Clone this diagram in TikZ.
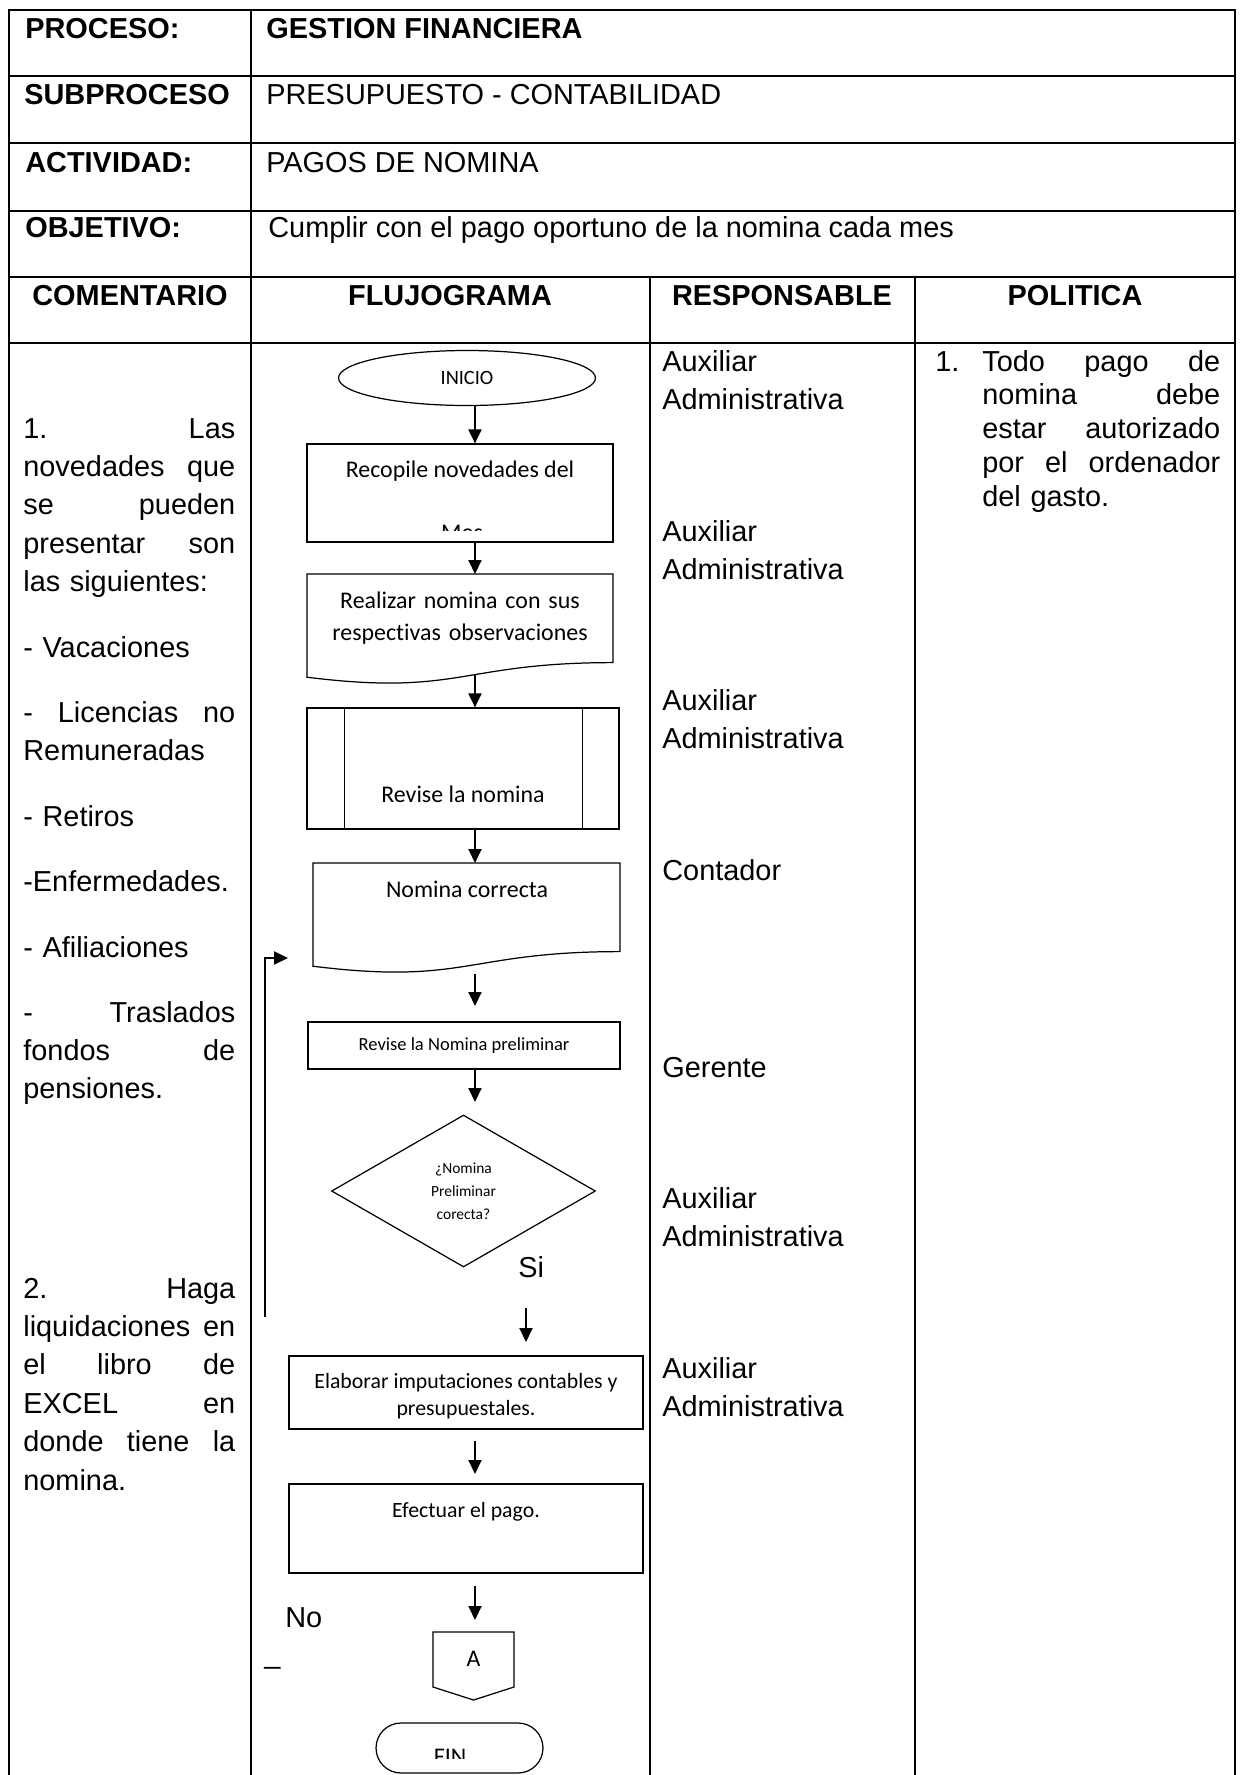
\documentclass[tikz,border=0pt]{standalone}
\usepackage{fontspec}
\setmainfont{Liberation Sans}
\newfontfamily\calibri[Ligatures=NoCommon]{Carlito}
\usetikzlibrary{arrows.meta, shapes.geometric}

% tamanos de letra (1 unidad = 1 px)
\newcommand{\letra}{\fontsize{16.44}{21.9}\selectfont}
\newcommand{\letrapol}{\fontsize{16.44}{19.3}\selectfont}
\newcommand{\cajaG}{\calibri\fontsize{13.6}{18.7}\selectfont}
\newcommand{\cajaM}{\calibri\fontsize{12.4}{15.3}\selectfont}
\newcommand{\cajaS}{\calibri\fontsize{10.54}{12.6}\selectfont}
\newcommand{\cajaI}{\calibri\fontsize{11.56}{14}\selectfont}
\newcommand{\cajaXS}{\calibri\fontsize{8.8}{13}\selectfont}

\begin{document}
\begin{tikzpicture}[x=0.02cm, y=-0.02cm,
    tabla/.style={line width=1.2pt},
    borde/.style={line width=0.7pt},
    caja/.style={draw, line width=0.7pt, inner sep=0pt},
    enc/.style={anchor=base west, inner sep=0pt, font=\letra},
    col/.style={anchor=base, inner sep=0pt, font=\letra\bfseries},
    parr/.style={anchor=base west, inner sep=0pt, font=\letra, text width=#1},
    txtcaja/.style={anchor=base, inner sep=0pt},
    flecha/.style={line width=1.1pt, -{Triangle[length=0.28cm, width=0.26cm]}}]
  \useasboundingbox (0,0) rectangle (1240,1775);

  % Tabla
  \draw[tabla] (9,1775) -- (9,10) -- (1235,10) -- (1235,1775);
  \foreach \y in {76,143,211,277,343}
    \draw[tabla] (9,\y) -- (1235,\y);
  \draw[tabla] (251,10) -- (251,1775);
  \foreach \x in {650,915}
    \draw[tabla] (\x,277) -- (\x,1775);

  % Encabezado
  \node[enc, font=\letra\bfseries] (proceso) at (25,38) {PROCESO:};
  \node[enc, font=\letra\bfseries] (gestion) at (266,38) {GESTION FINANCIERA};
  \node[enc, font=\letra\bfseries] (subproceso) at (24,104) {SUBPROCESO};
  \node[enc] (presupuesto) at (266,104) {PRESUPUESTO - CONTABILIDAD};
  \node[enc, font=\letra\bfseries] (actividad) at (25,172) {ACTIVIDAD:};
  \node[enc] (pagos) at (266,172) {PAGOS DE NOMINA};
  \node[enc, font=\letra\bfseries] (objetivo) at (25,237) {OBJETIVO:};
  \node[enc] (cumplir) at (268,237) {Cumplir con el pago oportuno de la nomina cada mes};

  \node[col] (comentario) at (130,305) {COMENTARIO};
  \node[col] (flujograma) at (450,305) {FLUJOGRAMA};
  \node[col] (responsable) at (782,305) {RESPONSABLE};
  \node[col] (politica) at (1075,305) {POLITICA};

  % Columna de comentarios
  \node[parr=4.24cm] (com1) at (23,438) {1.\hfill Las\\ novedades\hfill que\\ se\hfill pueden\\ presentar\hfill son\\ las siguientes:};
  \node[parr=4.24cm] (com2) at (23,657) {- Vacaciones};
  \node[parr=4.24cm] (com3) at (23,722) {-\hfill Licencias\hfill no\\ Remuneradas};
  \node[parr=4.24cm] (com4) at (23,826) {- Retiros};
  \node[parr=4.24cm] (com5) at (23,891) {-Enfermedades.};
  \node[parr=4.24cm] (com6) at (23,957) {- Afiliaciones};
  \node[parr=4.24cm] (com7) at (23,1022) {-\hfill Traslados\\ fondos\hfill de\\ pensiones.};
  \node[parr=4.24cm] (com8) at (23,1298) {2.\hfill Haga\\ liquidaciones\hfill en\\ el\hfill libro\hfill de\\ EXCEL\hfill en\\ donde\hfill tiene\hfill la\\ nomina.};

  % Responsables
  \node[parr=5cm] (resp1) at (662,371) {Auxiliar\\ Administrativa};
  \node[parr=5cm] (resp2) at (662,541) {Auxiliar\\ Administrativa};
  \node[parr=5cm] (resp3) at (662,710) {Auxiliar\\ Administrativa};
  \node[enc] (resp4) at (662,880) {Contador};
  \node[enc] (resp5) at (662,1077) {Gerente};
  \node[parr=5cm] (resp6) at (662,1208) {Auxiliar\\ Administrativa};
  \node[parr=5cm] (resp7) at (662,1378) {Auxiliar\\ Administrativa};

  % Politica
  \node[enc, font=\letrapol] (pol-num) at (935,371) {1.};
  \node[parr=4.76cm, font=\letrapol] (pol-txt) at (982,371) {Todo\hfill pago\hfill de\\ nomina\hfill debe\\ estar\hfill autorizado\\ por\hfill el\hfill ordenador\\ del gasto.};

  % Flujograma
  \node[caja, ellipse, minimum width=5.14cm, minimum height=1.1cm, font=\cajaI] (inicio) at (467,378) {INICIO};

  \node[caja, minimum width=6.12cm, minimum height=1.96cm] (recopile) at (460,493) {};
  \node[txtcaja, font=\cajaG] (recopile-a) at (460,477) {Recopile novedades del};
  \begin{scope}
    \clip (307,444) rectangle (613,530);
    \node[txtcaja, font=\cajaG] (recopile-b) at (462,540) {Mes};
  \end{scope}

  % documento con borde ondulado
  \node[inner sep=0pt, minimum width=6.12cm, minimum height=1.98cm, anchor=north] (realizar) at (460,574) {};
  \draw[borde] (307,574) -- (613,574) -- (613,662.6) .. controls (460,662.6) and (460,696.3) .. (307,677.2) -- cycle;
  \node[txtcaja, font=\cajaG, text width=6cm, align=center] (realizar-t) at (460,608) {Realizar nomina con sus\\ respectivas observaciones};

  \node[caja, minimum width=6.24cm, minimum height=2.42cm] (revise) at (463,768.5) {};
  \draw[borde] ([xshift=0.76cm]revise.north west) -- ([xshift=0.76cm]revise.south west);
  \draw[borde] ([xshift=-0.74cm]revise.north east) -- ([xshift=-0.74cm]revise.south east);
  \node[txtcaja, font=\cajaG] (revise-t) at (463,802) {Revise la nomina};

  \node[inner sep=0pt, minimum width=6.14cm, minimum height=2.2cm, anchor=north] (correcta) at (466.5,863) {};
  \draw[borde] (313,863) -- (620,863) -- (620,951.6) .. controls (466.5,951.6) and (466.5,985.3) .. (313,966.2) -- cycle;
  \node[txtcaja, font=\cajaG] (correcta-t) at (467,897) {Nomina correcta};

  \node[caja, minimum width=6.24cm, minimum height=0.94cm, font=\cajaS] (preliminar) at (464,1045.5) {Revise la Nomina preliminar};

  \node[caja, diamond, minimum width=5.28cm, minimum height=3.04cm, font=\cajaXS, align=center] (decision) at (463.5,1191) {¿Nomina\\ Preliminar\\ corecta?};
  \node[enc] (si) at (518,1277) {Si};

  \node[caja, minimum width=7.08cm, minimum height=1.46cm] (elaborar) at (466,1392.5) {};
  \node[txtcaja, font=\cajaM] (elaborar-a) at (466,1388) {Elaborar imputaciones contables y};
  \begin{scope}
    \clip (289,1356) rectangle (643,1418);
    \node[txtcaja, font=\cajaM] (elaborar-b) at (466,1415) {presupuestales.};
  \end{scope}

  \node[caja, minimum width=7.08cm, minimum height=1.78cm] (efectuar) at (466,1528.5) {};
  \node[txtcaja, font=\cajaM] (efectuar-t) at (466,1517) {Efectuar el pago.};

  \node[enc] (no) at (285,1627) {No};
  \node[enc] (guion) at (264,1663) {\_};

  % conector de pagina
  \draw[borde] (433,1632) -- (514,1632) -- (514,1687) -- (473.5,1700) -- (433,1687) -- cycle;
  \node[txtcaja, font=\cajaG] (conector) at (473.5,1666) {A};

  \node[caja, rounded corners=0.5cm, minimum width=3.34cm, minimum height=1cm] (fin) at (459.5,1748) {};
  \begin{scope}
    \clip (376,1723) rectangle (543,1758);
    \node[txtcaja, font=\cajaG] (fin-t) at (450,1764.5) {FIN};
  \end{scope}

  % Flechas
  \coordinate (ax) at (475,0);
  \coordinate (t5) at (475,1006);
  \coordinate (t6) at (475,1102);
  \coordinate (s7) at (526,1308);
  \coordinate (t7) at (526,1342);
  \coordinate (s8) at (475,1441);
  \coordinate (t8) at (475,1474);
  \coordinate (s9) at (475,1586);
  \coordinate (t9) at (475,1620);
  \draw[flecha] (inicio.south -| ax) -- (recopile.north -| ax);
  \draw[flecha] (recopile.south -| ax) -- (realizar.north -| ax);
  \draw[flecha] (realizar.south -| ax) -- (revise.north -| ax);
  \draw[flecha] (revise.south -| ax) -- (correcta.north -| ax);
  \draw[flecha] (correcta.south -| ax) -- (t5);
  \draw[flecha] (preliminar.south -| ax) -- (t6);
  \draw[flecha] (s7) -- (t7);
  \draw[flecha] (s8) -- (t8);
  \draw[flecha] (s9) -- (t9);

  % Retorno (No)
  \coordinate (ret-a) at (265,1317);
  \coordinate (ret-b) at (288,958);
  \draw[flecha] (ret-a) |- (ret-b);
\end{tikzpicture}
\end{document}
